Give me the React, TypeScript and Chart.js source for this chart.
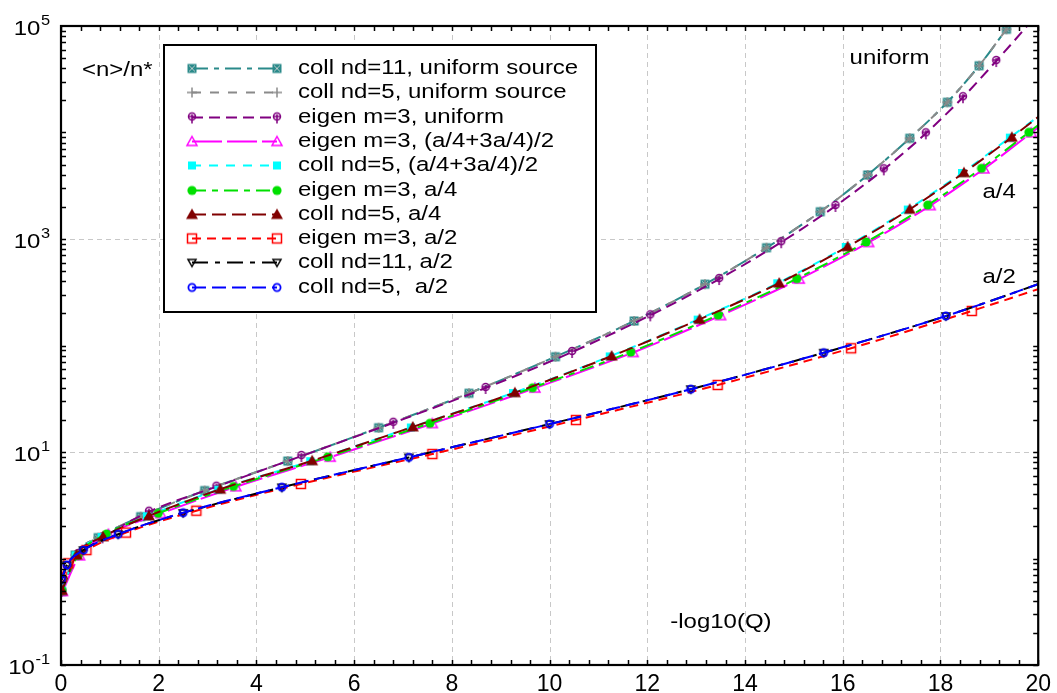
import React, { useEffect, useRef } from "react";
import { Chart, registerables } from "chart.js";

Chart.register(...registerables);

// ---------------- data ----------------
const SERIES_LABELS = [
  "coll nd=11, uniform source",
  "coll nd=5, uniform source",
  "eigen m=3, uniform",
  "eigen m=3, (a/4+3a/4)/2",
  "coll nd=5, (a/4+3a/4)/2",
  "eigen m=3, a/4",
  "coll nd=5, a/4",
  "eigen m=3, a/2",
  "coll nd=11, a/2",
  "coll nd=5,  a/2",
];

const tealX = [0.014, 0.29, 0.76, 1.63, 2.94, 4.64, 6.5, 8.35, 10.12, 11.73, 13.18, 14.44, 15.54, 16.51, 17.37, 18.14, 18.79, 19.35, 19.9];
const tealY = [0.49, 1.08, 1.57, 2.47, 4.34, 8.22, 16.9, 35.6, 78.5, 170, 376, 828, 1803, 3990, 8830, 19230, 42360, 93110, 199500];

const grayX = [0.014, 0.29, 0.76, 1.63, 2.94, 4.64, 6.5, 8.35, 10.12, 11.73, 13.18, 14.44, 15.54, 16.51, 17.37, 18.14, 18.79, 19.35, 19.9];
const grayY = [0.49, 1.08, 1.57, 2.47, 4.34, 8.22, 16.9, 35.6, 78.5, 170, 376, 828, 1803, 3990, 8830, 19230, 42360, 93110, 199500];

const purpleX = [0.02, 0.35, 0.85, 1.8, 3.18, 4.92, 6.8, 8.69, 10.46, 12.06, 13.47, 14.74, 15.85, 16.84, 17.7, 18.46, 19.14, 20.1];
const purpleY = [0.5, 1.1, 1.58, 2.75, 4.72, 9.16, 18.8, 39.9, 86.9, 192, 421, 933, 2042, 4508, 9817, 21430, 46880, 147900];

const magentaX = [0.03, 0.38, 0.97, 2.04, 3.58, 5.51, 7.6, 9.7, 11.71, 13.5, 15.11, 16.53, 17.79, 18.89, 19.86, 20.45];
const magentaY = [0.49, 1.06, 1.69, 2.64, 4.72, 8.95, 18.5, 39.8, 86.0, 191, 420, 928, 2060, 4560, 9950, 16100];

const cyanX = [0.02, 0.3, 0.83, 1.76, 3.22, 5.1, 7.16, 9.25, 11.23, 13.03, 14.66, 16.06, 17.33, 18.44, 19.42, 20.4];
const cyanY = [0.5, 1.07, 1.59, 2.49, 4.43, 8.2, 17.0, 35.8, 79.0, 175, 384, 842, 1890, 4170, 8960, 19300];

const greenX = [0.02, 0.35, 0.93, 1.99, 3.53, 5.46, 7.55, 9.65, 11.66, 13.45, 15.06, 16.48, 17.74, 18.84, 19.81, 20.4];
const greenY = [0.5, 1.07, 1.7, 2.66, 4.75, 9.0, 18.6, 40.1, 86.8, 193, 424, 938, 2084, 4613, 10050, 16200];

const darkredX = [0.02, 0.32, 0.86, 1.8, 3.26, 5.14, 7.2, 9.29, 11.27, 13.07, 14.7, 16.1, 17.37, 18.48, 19.46, 20.4];
const darkredY = [0.5, 1.08, 1.6, 2.51, 4.47, 8.28, 17.2, 36.1, 79.6, 176, 386, 847, 1901, 4198, 9016, 19500];

const redX = [0.014, 0.15, 0.52, 1.33, 2.77, 4.91, 7.6, 10.54, 13.44, 16.17, 18.64, 20.4];
const redY = [0.674, 0.902, 1.2, 1.75, 2.81, 5.01, 9.57, 19.95, 42.6, 94.2, 211, 389];

const blackX = [0.016, 0.12, 0.46, 1.17, 2.5, 4.52, 7.12, 10.0, 12.89, 15.61, 18.11, 20.4];
const blackY = [0.63, 0.865, 1.2, 1.69, 2.68, 4.66, 8.9, 18.3, 38.9, 85.5, 189, 437];

const blueX = [0.014, 0.12, 0.46, 1.17, 2.5, 4.52, 7.12, 10.0, 12.89, 15.61, 18.11, 20.4];
const blueY = [0.638, 0.869, 1.2, 1.69, 2.69, 4.67, 8.91, 18.3, 38.9, 85.5, 189, 437];

const X_MIN = 0;
const X_MAX = 20;
const X_STEP = 2;
const Y_MIN = 0.1;
const Y_MAX = 100000;
const Y_TICK_VALUES = [0.1, 10, 1000, 100000];
const Y_TICK_BASES = ["10", "10", "10", "10"];
const Y_TICK_EXPONENTS = ["-1", "1", "3", "5"];

// annotation texts with anchor in data coordinates
const NOTE_TEXTS = ["<n>/n*", "uniform", "a/4", "a/2", "-log10(Q)"];
const NOTE_X = [0.43, 16.14, 18.86, 18.86, 12.47];
const NOTE_Y = [38600, 50000, 2760, 440, 0.254];

// ---------------- styles ----------------
const COLORS = ["#2a8a8a", "#8a8a8a", "#800080", "#ff00ff", "#00ffff", "#00e000", "#800000", "#ff0000", "#000000", "#0000ff"];
const DASHES = [[16, 6, 5, 6], [9, 9], [11, 6], [30, 5], [9, 8], [14, 6, 6, 6], [14, 6], [9, 6], [16, 7, 5, 7], [14, 6]];
const WIDTHS = [2, 2, 2, 2, 2, 2, 2, 2, 2, 2];
const MARKERS = ["sqx", "plus", "circstem", "triopen", "sqfill", "circfill", "trifill", "sqopen", "tridown", "circopen"];
const ORDERS = [10, 9, 8, 7, 6, 5, 4, 3, 2, 1];

const SERIES_X = [tealX, grayX, purpleX, magentaX, cyanX, greenX, darkredX, redX, blackX, blueX];
const SERIES_Y = [tealY, grayY, purpleY, magentaY, cyanY, greenY, darkredY, redY, blackY, blueY];

const FONT = '"Liberation Sans", Arial, Helvetica, sans-serif';
const STRETCH = 1.17;

function makeMarker(kind: string, color: string): HTMLCanvasElement {
  const s = 18;
  const c = document.createElement("canvas");
  c.width = s;
  c.height = s;
  const g = c.getContext("2d")!;
  const m = s / 2;
  g.strokeStyle = color;
  g.fillStyle = color;
  g.lineWidth = 1.5;
  switch (kind) {
    case "sqx": {
      g.fillRect(m - 4.5, m - 4.5, 9, 9);
      g.strokeStyle = "#b8c8c8";
      g.lineWidth = 1;
      g.beginPath();
      g.moveTo(m - 3, m - 3); g.lineTo(m + 3, m + 3);
      g.moveTo(m + 3, m - 3); g.lineTo(m - 3, m + 3);
      g.stroke();
      break;
    }
    case "plus": {
      g.beginPath();
      g.moveTo(m - 5, m); g.lineTo(m + 5, m);
      g.moveTo(m, m - 5); g.lineTo(m, m + 5);
      g.stroke();
      break;
    }
    case "circstem": {
      g.beginPath();
      g.arc(m, m - 1, 3.5, 0, Math.PI * 2);
      g.stroke();
      g.beginPath();
      g.moveTo(m, m - 3); g.lineTo(m, m + 6);
      g.moveTo(m - 3, m - 1); g.lineTo(m + 3, m - 1);
      g.stroke();
      break;
    }
    case "triopen": {
      g.beginPath();
      g.moveTo(m, m - 5); g.lineTo(m + 5, m + 4); g.lineTo(m - 5, m + 4); g.closePath();
      g.stroke();
      break;
    }
    case "sqfill": {
      g.fillRect(m - 4, m - 4, 8, 8);
      break;
    }
    case "circfill": {
      g.beginPath();
      g.arc(m, m, 4.6, 0, Math.PI * 2);
      g.fill();
      break;
    }
    case "trifill": {
      g.beginPath();
      g.moveTo(m, m - 6); g.lineTo(m + 6, m + 4.5); g.lineTo(m - 6, m + 4.5); g.closePath();
      g.fill();
      break;
    }
    case "sqopen": {
      g.strokeRect(m - 4.5, m - 4.5, 9, 9);
      break;
    }
    case "tridown": {
      g.beginPath();
      g.moveTo(m - 4, m - 3); g.lineTo(m + 4, m - 3); g.lineTo(m, m + 4); g.closePath();
      g.stroke();
      break;
    }
    case "circopen": {
      g.lineWidth = 1.8;
      g.beginPath();
      g.arc(m, m, 3.6, 0, Math.PI * 2);
      g.stroke();
      break;
    }
  }
  return c;
}

function stretchedText(ctx: CanvasRenderingContext2D, text: string, x: number, y: number, size: number) {
  ctx.save();
  ctx.translate(x, y);
  ctx.scale(STRETCH, 1);
  ctx.font = `${size}px ${FONT}`;
  ctx.fillStyle = "#000";
  ctx.textBaseline = "middle";
  ctx.textAlign = "left";
  ctx.fillText(text, 0, 0);
  ctx.restore();
}

function textWidth(ctx: CanvasRenderingContext2D, text: string, size: number) {
  ctx.save();
  ctx.font = `${size}px ${FONT}`;
  const w = ctx.measureText(text).width * STRETCH;
  ctx.restore();
  return w;
}

export default function App() {
  const ref = useRef<HTMLCanvasElement | null>(null);

  useEffect(() => {
    const canvas = ref.current;
    if (!canvas) return;
    const markerImgs = MARKERS.map((k, i) => makeMarker(k, COLORS[i]));

    const datasets = SERIES_LABELS.map((label, i) => ({
      label,
      data: SERIES_X[i].map((x, j) => ({ x, y: SERIES_Y[i][j] })),
      borderColor: COLORS[i],
      backgroundColor: COLORS[i],
      borderWidth: WIDTHS[i],
      borderDash: DASHES[i],
      pointStyle: markerImgs[i],
      pointRadius: 5,
      cubicInterpolationMode: "monotone" as const,
      order: ORDERS[i],
      fill: false,
    }));

    const framePlugin = {
      id: "frameAndDecor",
      beforeDatasetsDraw(chart: any) {
        const { ctx, chartArea: a, scales } = chart;
        const xs = scales.x;
        const ys = scales.y;
        ctx.save();
        ctx.strokeStyle = "#c8c8c8";
        ctx.lineWidth = 1;
        ctx.setLineDash([5, 4]);
        for (let v = X_MIN + X_STEP; v < X_MAX; v += X_STEP) {
          const px = Math.round(xs.getPixelForValue(v)) + 0.5;
          ctx.beginPath();
          ctx.moveTo(px, a.top);
          ctx.lineTo(px, a.bottom);
          ctx.stroke();
        }
        for (const v of Y_TICK_VALUES) {
          if (v <= Y_MIN || v >= Y_MAX) continue;
          const py = Math.round(ys.getPixelForValue(v)) + 0.5;
          ctx.beginPath();
          ctx.moveTo(a.left, py);
          ctx.lineTo(a.right, py);
          ctx.stroke();
        }
        ctx.restore();
      },
      afterDatasetsDraw(chart: any) {
        const { ctx, chartArea: a, scales } = chart;
        const xs = scales.x;
        const ys = scales.y;
        ctx.save();
        ctx.setLineDash([]);
        ctx.strokeStyle = "#000";
        ctx.lineWidth = 1.5;
        // minor/major ticks inward
        const tl = 5;
        ctx.beginPath();
        for (let i = 0; i <= 50; i++) {
          const v = X_MIN + i * 0.4;
          const px = Math.round(xs.getPixelForValue(v)) + 0.5;
          ctx.moveTo(px, a.bottom);
          ctx.lineTo(px, a.bottom - tl);
          ctx.moveTo(px, a.top);
          ctx.lineTo(px, a.top + tl);
        }
        for (let e = -1; e <= 4; e++) {
          for (let k = 1; k <= 9; k++) {
            const v = k * Math.pow(10, e);
            const py = Math.round(ys.getPixelForValue(v)) + 0.5;
            ctx.moveTo(a.left, py);
            ctx.lineTo(a.left + tl, py);
            ctx.moveTo(a.right, py);
            ctx.lineTo(a.right - tl, py);
          }
        }
        ctx.stroke();
        // frame
        ctx.lineWidth = 2.2;
        ctx.strokeRect(a.left, a.top, a.right - a.left, a.bottom - a.top);

        // y tick labels with superscript exponents
        Y_TICK_VALUES.forEach((v, i) => {
          const py = ys.getPixelForValue(v);
          const right = a.left - 11;
          const ew = textWidth(ctx, Y_TICK_EXPONENTS[i], 14);
          const bw = textWidth(ctx, Y_TICK_BASES[i], 20.5);
          stretchedText(ctx, Y_TICK_EXPONENTS[i], right - ew, py - 5, 14);
          stretchedText(ctx, Y_TICK_BASES[i], right - ew - bw - 0.5, py + 3, 20.5);
        });

        // annotations
        NOTE_TEXTS.forEach((t, i) => {
          const px = xs.getPixelForValue(NOTE_X[i]);
          const py = ys.getPixelForValue(NOTE_Y[i]);
          stretchedText(ctx, t, px, py, 20.5);
        });

        // legend
        const lx = 164, ly = 45, lw = 432, lh = 267;
        ctx.fillStyle = "#fff";
        ctx.fillRect(lx, ly, lw, lh);
        ctx.lineWidth = 2;
        ctx.strokeStyle = "#000";
        ctx.strokeRect(lx, ly, lw, lh);
        const x0 = 192, x1 = 277, tx = 298, row0 = 68, step = 24.3;
        SERIES_LABELS.forEach((label, i) => {
          const y = Math.round(row0 + i * step) + 0.5;
          ctx.save();
          ctx.strokeStyle = COLORS[i];
          ctx.lineWidth = WIDTHS[i];
          ctx.setLineDash(DASHES[i]);
          ctx.beginPath();
          ctx.moveTo(x0, y);
          ctx.lineTo(x1, y);
          ctx.stroke();
          ctx.restore();
          const img = markerImgs[i];
          ctx.drawImage(img, x0 - img.width / 2, y - img.height / 2);
          ctx.drawImage(img, x1 - img.width / 2, y - img.height / 2);
          stretchedText(ctx, label, tx, y, 20.5);
        });
        ctx.restore();
      },
    };

    const chart = new Chart(canvas, {
      type: "line",
      data: { datasets },
      options: {
        animation: false,
        responsive: false,
        devicePixelRatio: 1,
        layout: { padding: { top: 26, right: 16, left: 0, bottom: 0 } },
        plugins: { legend: { display: false }, tooltip: { enabled: false }, title: { display: false } },
        scales: {
          x: {
            type: "linear",
            min: X_MIN,
            max: X_MAX,
            grid: { display: false, drawTicks: false },
            border: { display: false },
            ticks: {
              stepSize: X_STEP,
              color: "#000",
              padding: 6,
              font: { family: FONT, size: 23 },
              maxRotation: 0,
              callback: (v: any) => String(v),
            },
            afterFit: (s: any) => { s.height = 28; },
          },
          y: {
            type: "logarithmic",
            min: Y_MIN,
            max: Y_MAX,
            grid: { display: false, drawTicks: false },
            border: { display: false },
            ticks: { display: false },
            afterBuildTicks: (s: any) => {
              s.ticks = Y_TICK_VALUES.map((value) => ({ value }));
            },
            afterFit: (s: any) => { s.width = 61; },
          },
        },
      },
      plugins: [framePlugin],
    } as any);

    return () => chart.destroy();
  }, []);

  return (
    <div style={{ position: "fixed", left: 0, top: 0, width: 1057, height: 693, background: "#fff" }}>
      <canvas ref={ref} width={1057} height={693} style={{ display: "block" }} />
    </div>
  );
}
